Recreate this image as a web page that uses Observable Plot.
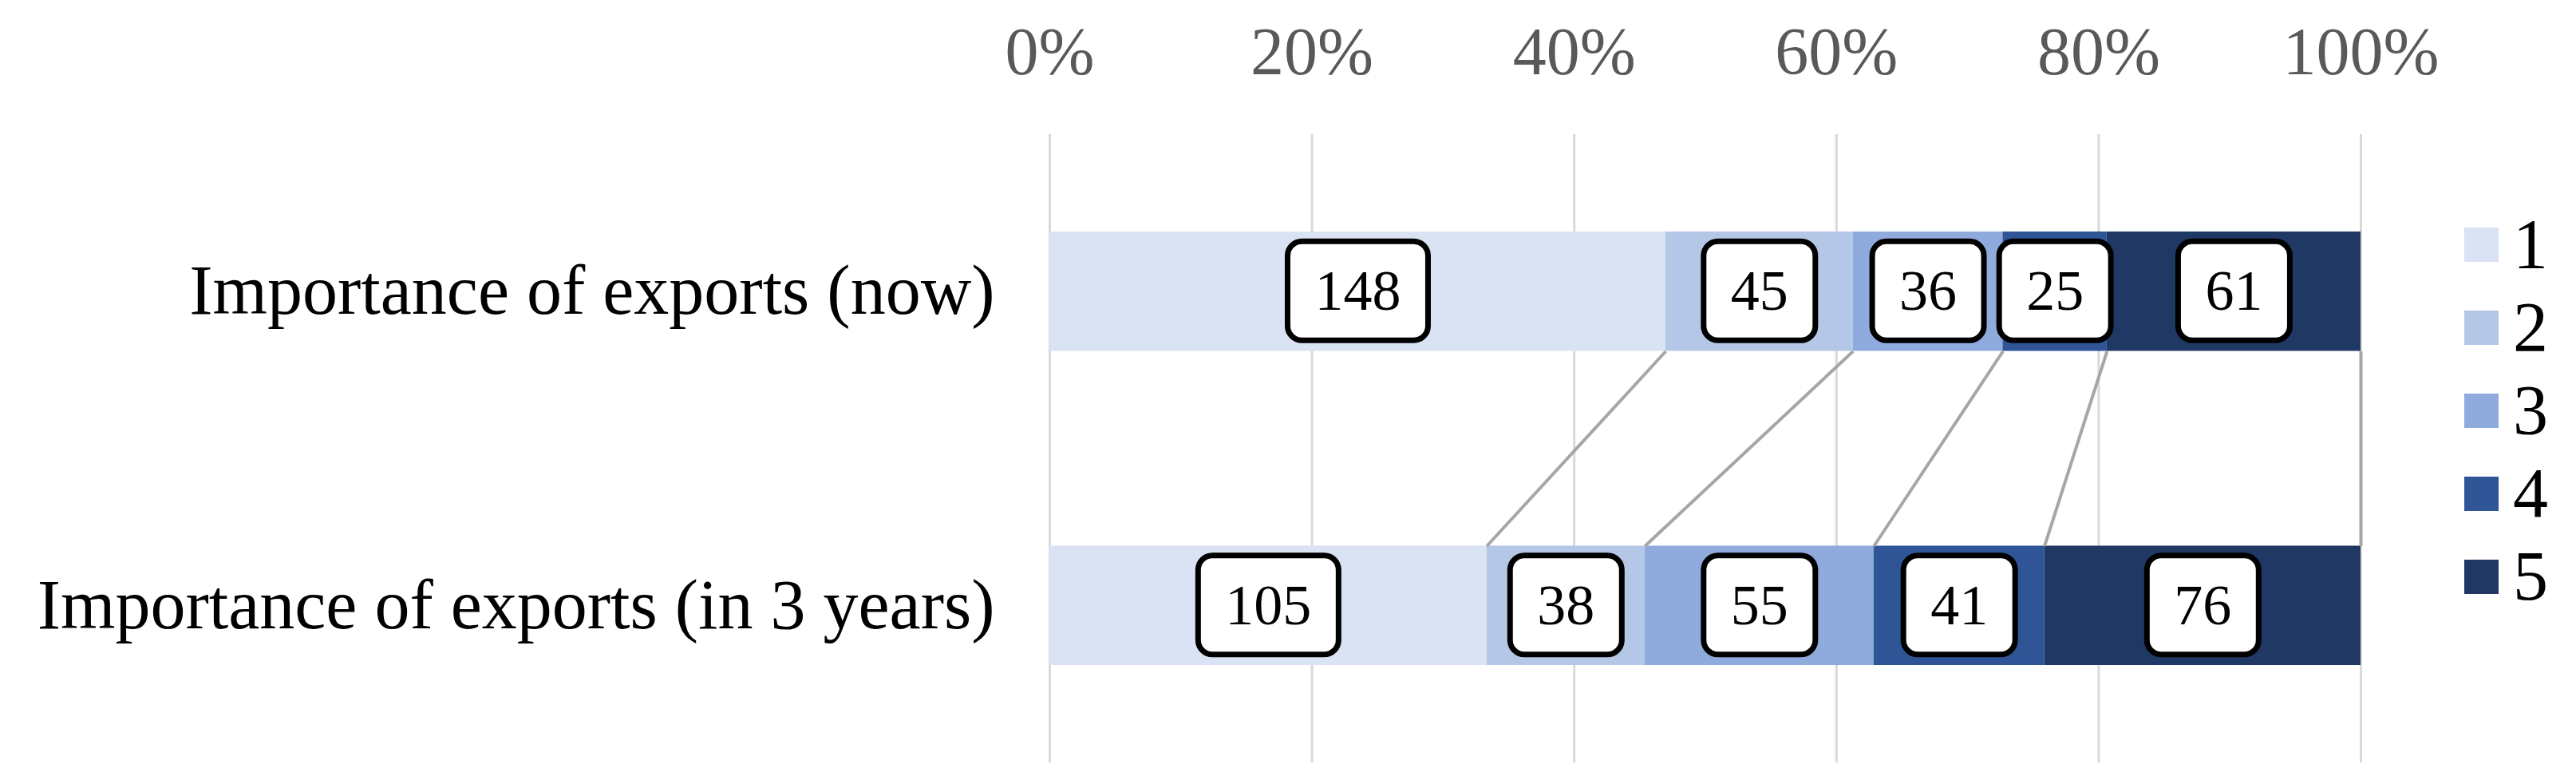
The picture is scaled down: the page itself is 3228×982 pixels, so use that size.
<!DOCTYPE html>
<html>
<head>
<meta charset="utf-8">
<script src="https://cdn.jsdelivr.net/npm/d3@7"></script>
<script src="https://cdn.jsdelivr.net/npm/@observablehq/plot@0.6"></script>
<style>
  html, body { margin: 0; padding: 0; background: #fff; }
  #chart { position: relative; width: 3228px; height: 982px; overflow: hidden; }
  #chart > svg { display: block; }
  #legend { position: absolute; left: 3088px; top: 254px; font-family: "Liberation Serif", "Times New Roman", serif; }
  #legend, #legend * { font-family: "Liberation Serif", "Times New Roman", serif !important; }
  #legend > div { font-size: 88px !important; color: #000 !important; margin: 0 !important; columns: auto !important; }
  #legend > div > div { display: flex !important; align-items: center !important; height: 104px !important; padding: 0 !important; margin: 0 !important; font-size: 88px !important; }
  #legend > div > div svg { margin-right: 18px !important; flex-shrink: 0; }
  #legend > div > div > div, #legend > div > div > span { overflow: visible !important; line-height: 1.15 !important; }
</style>
</head>
<body>
<div id="chart"><div id="legend"></div></div>
<script>
// ---- data ----
const categories = ["Importance of exports (now)", "Importance of exports (in 3 years)"];
const levels = ["1", "2", "3", "4", "5"];
const nowValues = [148, 45, 36, 25, 61];
const futureValues = [105, 38, 55, 41, 76];
const xTicks = [0, 0.2, 0.4, 0.6, 0.8, 1];
const colors = ["#dae3f3", "#b4c7e7", "#8faadc", "#2f5597", "#203864"];

// ---- layout constants ----
const barGap = 0.31; // fraction of each row left empty above and below its bar
const serif = '"Liberation Serif", "Times New Roman", serif';

// ---- build tables ----
const seriesByRow = [nowValues, futureValues];
const segments = [];
const cumEnds = [];
seriesByRow.forEach((vals, row) => {
  const total = d3.sum(vals);
  let cum = 0;
  const ends = [];
  vals.forEach((v, j) => {
    segments.push({category: categories[row], row, level: levels[j], value: v, x1: cum / total, x2: (cum + v) / total});
    cum += v;
    ends.push(cum / total);
  });
  cumEnds.push(ends);
});
const links = levels.map((lv, j) => ({level: lv, from: cumEnds[0][j], to: cumEnds[1][j]}));

const plot = Plot.plot({
  width: 3228,
  height: 982,
  marginTop: 168,
  marginBottom: 27,
  marginLeft: 1315,
  marginRight: 270,
  style: {fontFamily: serif, background: "white"},
  x: {domain: [0, 1]},
  y: {domain: [0, 2], reverse: true},
  color: {domain: levels, range: colors},
  marks: [
    Plot.gridX(xTicks, {stroke: "#d9d9d9", strokeOpacity: 1, strokeWidth: 3}),
    Plot.rect(segments, {
      x1: "x1", x2: "x2",
      y1: d => d.row + barGap, y2: d => d.row + 1 - barGap,
      fill: "level"
    }),
    Plot.link(links, {
      x1: "from", x2: "to",
      y1: 1 - barGap, y2: 1 + barGap,
      stroke: "#a6a6a6", strokeWidth: 4
    }),
    Plot.text(segments, {
      x: d => (d.x1 + d.x2) / 2,
      y: d => d.row + 0.5,
      text: d => String(d.value),
      fontSize: 72, fill: "black",
      ariaLabel: "values"
    }),
    Plot.axisX({
      anchor: "top", ticks: xTicks, tickFormat: d3.format(".0%"),
      tickSize: 0, tickPadding: 76, fontSize: 84, color: "#595959", label: null
    }),
    Plot.axisY({
      ticks: [0.5, 1.5], tickFormat: t => categories[Math.floor(t)],
      tickSize: 0, tickPadding: 69, fontSize: 88, color: "black", label: null
    })
  ]
});

const chart = document.getElementById("chart");
chart.insertBefore(plot, chart.firstChild);

// rounded label boxes behind the value labels
const ns = "http://www.w3.org/2000/svg";
const valueStrings = new Set(segments.map(d => String(d.value)));
const axisLabels = new Set(categories.concat(xTicks.map(d3.format(".0%"))));
let groups = Array.from(plot.querySelectorAll('g[aria-label="values"]'));
let texts = groups.length
  ? groups.flatMap(g => Array.from(g.querySelectorAll("text")))
  : Array.from(plot.querySelectorAll("text")).filter(t => valueStrings.has(t.textContent.trim()) && !axisLabels.has(t.textContent.trim()));
texts.forEach(t => {
  const b = t.getBBox();
  const cy = b.y + b.height / 2;
  const w = b.width + 68, h = 124;
  const r = document.createElementNS(ns, "rect");
  r.setAttribute("x", b.x + b.width / 2 - w / 2);
  r.setAttribute("y", cy - h / 2);
  r.setAttribute("width", w);
  r.setAttribute("height", h);
  r.setAttribute("rx", 18);
  r.setAttribute("ry", 18);
  r.setAttribute("fill", "white");
  r.setAttribute("stroke", "black");
  r.setAttribute("stroke-width", 7);
  const tr = t.getAttribute("transform");
  if (tr) r.setAttribute("transform", tr);
  t.parentNode.insertBefore(r, t);
});

// legend
const legend = plot.legend("color", {
  columns: 1, swatchSize: 43, className: "lg",
  style: {fontFamily: serif, fontSize: "88px", color: "black"}
});
document.getElementById("legend").append(legend);
</script>
</body>
</html>
